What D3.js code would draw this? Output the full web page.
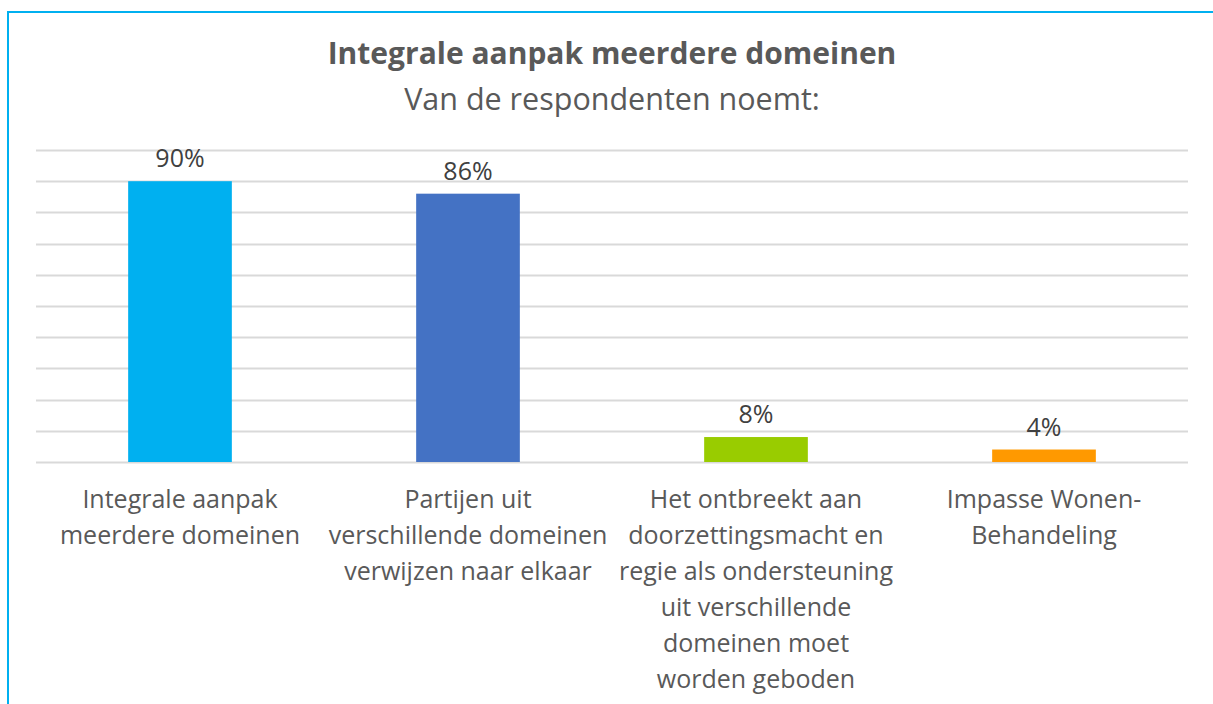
<!DOCTYPE html>
<html>
<head>
<meta charset="utf-8">
<script src="https://cdn.jsdelivr.net/npm/d3@7"></script>
<style>
  body { margin: 0; background: #fff; }
  svg { display: block; font-family: 'Open Sans', Lato, sans-serif; }
</style>
</head>
<body>
<div id="chart"></div>
<script>
// data
var categories = [
  'Integrale aanpak meerdere domeinen',
  'Partijen uit verschillende domeinen verwijzen naar elkaar',
  'Het ontbreekt aan doorzettingsmacht en regie als ondersteuning uit verschillende domeinen moet worden geboden',
  'Impasse Wonen-Behandeling'
];
var categoryLines = [
  ['Integrale aanpak', 'meerdere domeinen'],
  ['Partijen uit', 'verschillende domeinen', 'verwijzen naar elkaar'],
  ['Het ontbreekt aan', 'doorzettingsmacht en', 'regie als ondersteuning', 'uit verschillende', 'domeinen moet', 'worden geboden'],
  ['Impasse Wonen-', 'Behandeling']
];
var values = [0.90, 0.86, 0.08, 0.04];
var barColours = ['#00B0F0', '#4472C4', '#99CC00', '#FF9900'];
var gridTicks = [0, 0.1, 0.2, 0.3, 0.4, 0.5, 0.6, 0.7, 0.8, 0.9, 1.0];

var width = 1213, height = 704;
var plotLeft = 36, plotRight = 1188, plotTop = 150, plotBottom = 462;

var svg = d3.select('#chart').append('svg:svg')
  .attr('width', width)
  .attr('height', height);

// frame (left + top edge)
svg.append('path')
  .attr('d', 'M8,704 L8,12 L1213,12')
  .attr('fill', 'none')
  .attr('stroke', '#00B0F0')
  .attr('stroke-width', 2);

var x = d3.scaleBand()
  .domain(categories)
  .range([plotLeft, plotRight])
  .paddingInner(0.64)
  .paddingOuter(0.32);

var y = d3.scaleLinear()
  .domain([0, 1])
  .range([plotBottom, plotTop]);

// gridlines
svg.append('g')
  .selectAll('line')
  .data(gridTicks)
  .join('line')
  .attr('x1', plotLeft)
  .attr('x2', plotRight)
  .attr('y1', function(d) { return Math.round(y(d)) + 0.5; })
  .attr('y2', function(d) { return Math.round(y(d)) + 0.5; })
  .attr('stroke', '#D9D9D9')
  .attr('stroke-width', 2);

// bars
svg.append('g')
  .selectAll('rect')
  .data(values)
  .join('rect')
  .attr('x', function(d, i) { return x(categories[i]); })
  .attr('width', x.bandwidth())
  .attr('y', function(d) { return y(d); })
  .attr('height', function(d) { return y(0) - y(d); })
  .attr('fill', function(d, i) { return barColours[i]; });

// value labels
svg.append('g')
  .selectAll('text')
  .data(values)
  .join('text')
  .attr('x', function(d, i) { return x(categories[i]) + x.bandwidth() / 2; })
  .attr('y', function(d) { return y(d) - 14; })
  .attr('text-anchor', 'middle')
  .attr('font-size', '25px')
  .attr('fill', '#404040')
  .text(function(d) { return Math.round(d * 100) + '%'; });

// category labels
var cl = svg.append('g')
  .selectAll('text')
  .data(categories)
  .join('text')
  .attr('text-anchor', 'middle')
  .attr('font-size', '25px')
  .attr('fill', '#595959');

cl.each(function(c, i) {
  var cx = x(c) + x.bandwidth() / 2;
  d3.select(this).selectAll('tspan')
    .data(categoryLines[i])
    .join('tspan')
    .attr('x', cx)
    .attr('y', function(d, j) { return 508 + j * 36; })
    .text(function(d) { return d; });
});

// titles
svg.append('text')
  .attr('x', 612)
  .attr('y', 64)
  .attr('text-anchor', 'middle')
  .attr('font-size', '30px')
  .attr('font-weight', 'bold')
  .attr('fill', '#595959')
  .text('Integrale aanpak meerdere domeinen');

svg.append('text')
  .attr('x', 612)
  .attr('y', 110)
  .attr('text-anchor', 'middle')
  .attr('font-size', '30.5px')
  .attr('fill', '#595959')
  .text('Van de respondenten noemt:');
</script>
</body>
</html>
